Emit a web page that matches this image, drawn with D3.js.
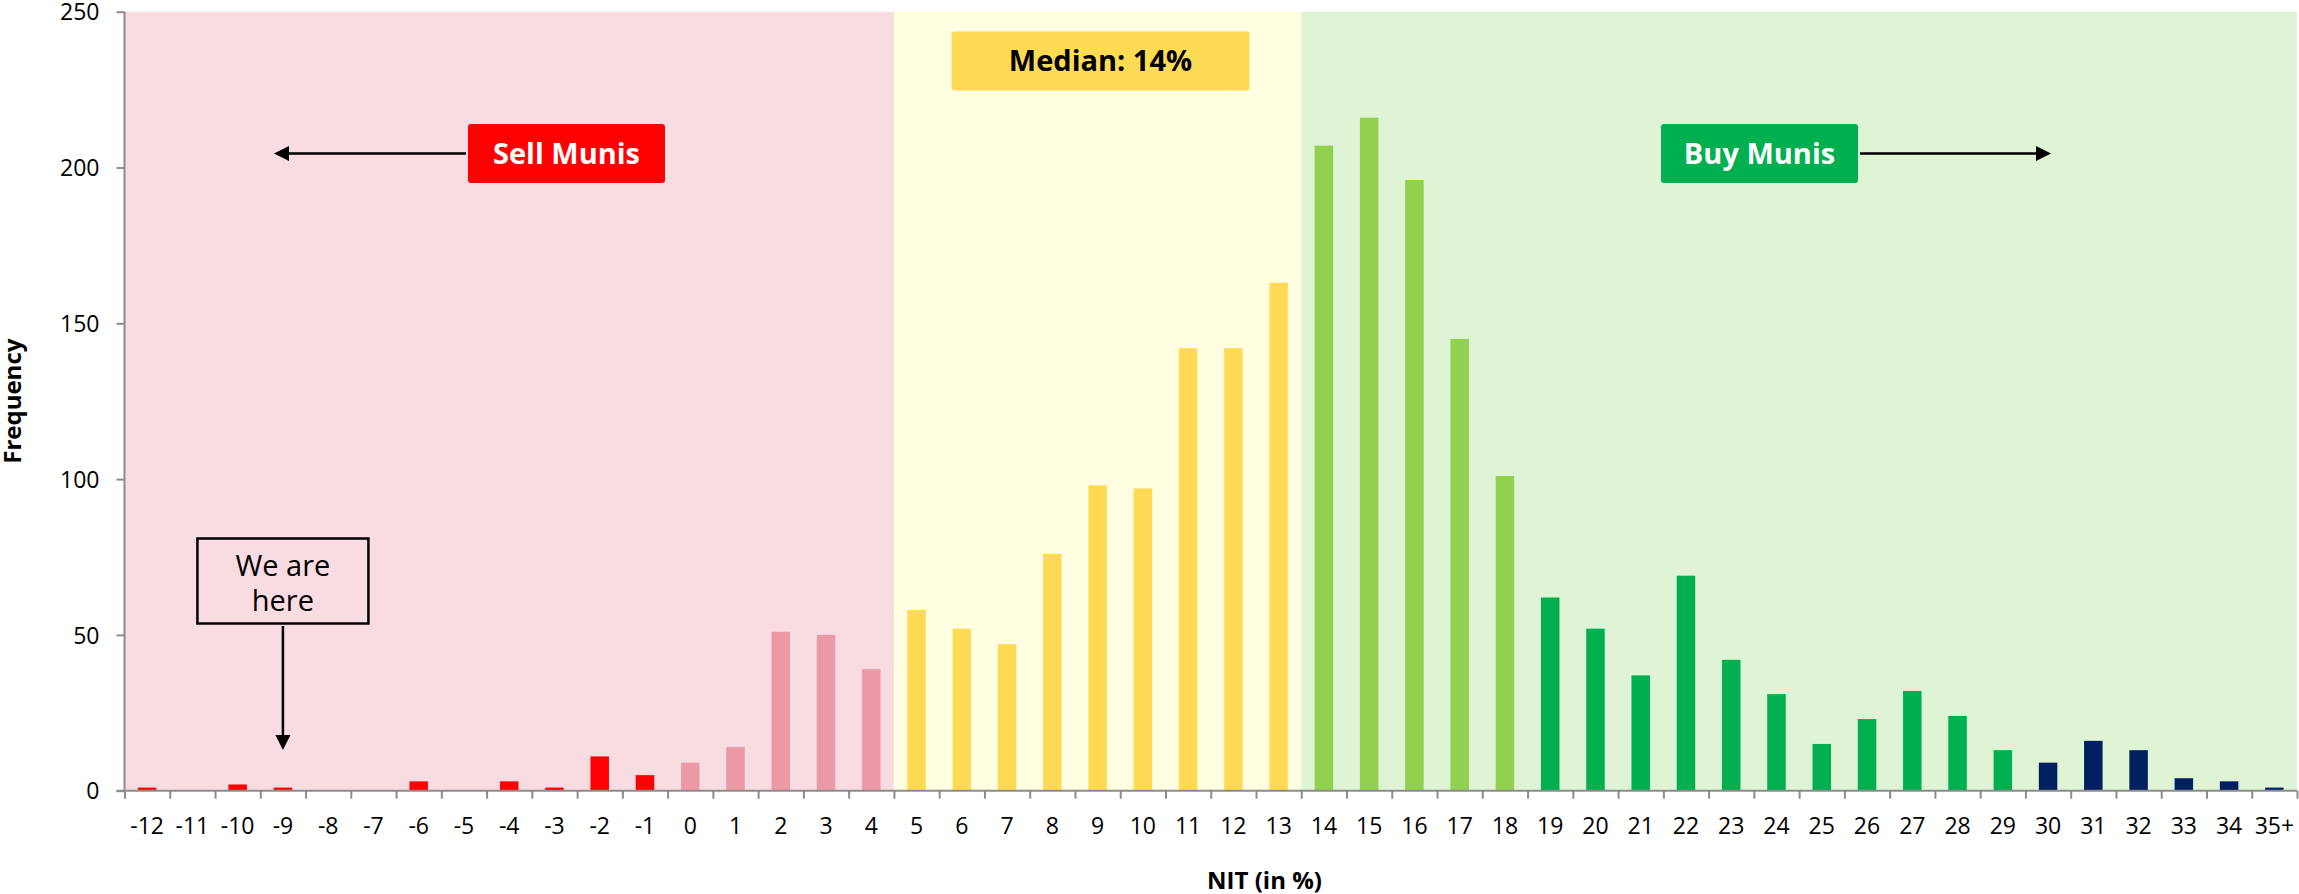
<!DOCTYPE html>
<html>
<head>
<meta charset="utf-8">
<script src="https://cdn.jsdelivr.net/npm/d3@7"></script>
<style>
  html, body { margin: 0; padding: 0; background: #ffffff; }
  svg { display: block; }
  text { font-family: "Open Sans", "Noto Sans", sans-serif; }
</style>
</head>
<body>
<svg id="chart" width="2299" height="894"></svg>
<script>
// NIT buckets (in %) and how many observations fall in each
const categories = ["-12", "-11", "-10", "-9", "-8", "-7", "-6", "-5", "-4", "-3", "-2", "-1",
  "0", "1", "2", "3", "4", "5", "6", "7", "8", "9", "10", "11", "12", "13", "14", "15", "16",
  "17", "18", "19", "20", "21", "22", "23", "24", "25", "26", "27", "28", "29", "30", "31",
  "32", "33", "34", "35+"];
const frequencies = [1, 0, 2, 1, 0, 0, 3, 0, 3, 1, 11, 5,
  9, 14, 51, 50, 39, 58, 52, 47, 76, 98, 97, 142, 142, 163, 207, 216, 196,
  145, 101, 62, 52, 37, 69, 42, 31, 15, 23, 32, 24, 13, 9, 16,
  13, 4, 3, 1];
const yTicks = [0, 50, 100, 150, 200, 250];
const yMax = 250;

// zone boundaries: first bucket of the neutral zone and of the buy zone
const neutralStart = "5";
const buyStart = "14";
const medianText = "Median: 14%";
const sellText = "Sell Munis";
const buyText = "Buy Munis";
const hereLines = ["We are", "here"];
const hereBucket = "-9";
const xTitle = "NIT (in %)";
const yTitle = "Frequency";

const svg = d3.select("#chart");
const plotLeft = 124.5, plotRight = 2297, plotTop = 11.7, plotBottom = 790.7;

const x = d3.scaleBand().domain(categories).range([plotLeft, plotRight]).padding(0);
const y = d3.scaleLinear().domain([0, yMax]).range([plotBottom, plotTop]);
const bw = x.bandwidth();
const barW = 18.5;

// bucket colour by NIT level
function barColor(c) {
  const n = parseInt(c, 10);
  if (n < 0) return "#ff0000";
  if (n <= 4) return "#ec99a7";
  if (n <= 13) return "#ffda55";
  if (n <= 18) return "#92d050";
  if (n <= 29) return "#00b050";
  return "#002060";
}

// background zones
const zones = [
  { x0: x(categories[0]), x1: x(neutralStart), fill: "#f9dce1" },
  { x0: x(neutralStart), x1: x(buyStart), fill: "#fffee0" },
  { x0: x(buyStart), x1: plotRight, fill: "#dff3d5" }
];
svg.append("g").selectAll("rect").data(zones).join("rect")
  .attr("x", d => d.x0).attr("width", d => d.x1 - d.x0)
  .attr("y", y(yMax)).attr("height", y(0) - y(yMax))
  .attr("fill", d => d.fill);

// bars
svg.append("g").selectAll("rect").data(categories).join("rect")
  .attr("x", c => x(c) + (bw - barW) / 2)
  .attr("width", barW)
  .attr("y", (c, i) => y(frequencies[i]))
  .attr("height", (c, i) => y(0) - y(frequencies[i]))
  .attr("fill", c => barColor(c));

const axisColor = "#8c8c8c";

// y axis
const yAxis = svg.append("g").attr("transform", `translate(${plotLeft},0)`)
  .call(d3.axisLeft(y).tickValues(yTicks).tickSize(8).tickPadding(17).tickFormat(d3.format("d")));
yAxis.select(".domain").attr("stroke", axisColor).attr("stroke-width", 2).attr("d", `M0,${y(yMax)}V${y(0)}`);
yAxis.selectAll(".tick line").attr("stroke", axisColor).attr("stroke-width", 2);
yAxis.selectAll(".tick text").attr("font-size", 23).attr("fill", "#000").attr("font-family", "Open Sans").attr("dy", "0.36em");

// x axis: tick marks at bucket edges, labels at bucket centres
const edges = d3.scaleLinear().domain([0, categories.length]).range([plotLeft, plotRight]);
const xEdge = svg.append("g").attr("transform", `translate(0,${plotBottom})`)
  .call(d3.axisBottom(edges).tickValues(d3.range(0, categories.length + 1)).tickSize(8).tickFormat(""));
xEdge.select(".domain").attr("stroke", axisColor).attr("stroke-width", 2).attr("d", `M${plotLeft - 8},0H${plotRight}`);
xEdge.selectAll(".tick line").attr("stroke", axisColor).attr("stroke-width", 2);

const xLab = svg.append("g").attr("transform", `translate(0,${plotBottom})`)
  .call(d3.axisBottom(x).tickSize(0).tickPadding(27));
xLab.select(".domain").remove();
xLab.selectAll(".tick text").attr("font-size", 23).attr("fill", "#000").attr("font-family", "Open Sans").attr("dy", "0.71em");

// axis titles
svg.append("text").attr("x", 1264.5).attr("y", 888.5).attr("text-anchor", "middle")
  .attr("font-size", 24).attr("font-weight", "bold").attr("fill", "#000").text(xTitle);
svg.append("text").attr("transform", `translate(21,${(plotTop + plotBottom) / 2}) rotate(-90)`)
  .attr("text-anchor", "middle").attr("font-size", 24).attr("font-weight", "bold").attr("fill", "#000").text(yTitle);

// arrowhead helper
function arrowHead(g, tipX, tipY, dir) {
  const L = 15, H = 7.5;
  let p;
  if (dir === "left") p = [[tipX, tipY], [tipX + L, tipY - H], [tipX + L, tipY + H]];
  else if (dir === "right") p = [[tipX, tipY], [tipX - L, tipY - H], [tipX - L, tipY + H]];
  else p = [[tipX, tipY], [tipX - H, tipY - L], [tipX + H, tipY - L]];
  g.append("path").attr("d", d3.line()(p) + "Z").attr("fill", "#000");
}

const ann = svg.append("g");
const arrowY = y(204.5);

// median label
ann.append("rect").attr("x", 951.5).attr("y", 31.5).attr("width", 298).attr("height", 59)
  .attr("rx", 3).attr("fill", "#ffda55");
ann.append("text").attr("x", 1100.5).attr("y", 71).attr("text-anchor", "middle")
  .attr("font-size", 29).attr("font-weight", "bold").attr("fill", "#000").text(medianText);

// sell label + arrow
ann.append("rect").attr("x", 468).attr("y", 124).attr("width", 197).attr("height", 59)
  .attr("rx", 3).attr("fill", "#ff0000");
ann.append("text").attr("x", 566.5).attr("y", 164).attr("text-anchor", "middle")
  .attr("font-size", 29).attr("font-weight", "bold").attr("fill", "#fff").text(sellText);
ann.append("line").attr("x1", 466).attr("x2", 285).attr("y1", arrowY).attr("y2", arrowY)
  .attr("stroke", "#000").attr("stroke-width", 2.5);
arrowHead(ann, 274, arrowY, "left");

// buy label + arrow
ann.append("rect").attr("x", 1661).attr("y", 124).attr("width", 197).attr("height", 59)
  .attr("rx", 3).attr("fill", "#00b050");
ann.append("text").attr("x", 1759.5).attr("y", 164).attr("text-anchor", "middle")
  .attr("font-size", 29).attr("font-weight", "bold").attr("fill", "#fff").text(buyText);
ann.append("line").attr("x1", 1860).attr("x2", 2040).attr("y1", arrowY).attr("y2", arrowY)
  .attr("stroke", "#000").attr("stroke-width", 2.5);
arrowHead(ann, 2051, arrowY, "right");

// "We are here" callout pointing at the current bucket
const hx = x(hereBucket) + bw / 2;
ann.append("rect").attr("x", hx - 85.5).attr("y", 538.5).attr("width", 171).attr("height", 85)
  .attr("fill", "none").attr("stroke", "#000").attr("stroke-width", 2.5);
ann.append("text").attr("text-anchor", "middle").attr("font-size", 29).attr("fill", "#000")
  .selectAll("tspan").data(hereLines).join("tspan")
  .attr("x", hx).attr("y", (d, i) => 576 + i * 35).text(d => d);
ann.append("line").attr("x1", hx).attr("x2", hx).attr("y1", 626).attr("y2", 740)
  .attr("stroke", "#000").attr("stroke-width", 2.5);
arrowHead(ann, hx, 750, "down");
</script>
</body>
</html>
